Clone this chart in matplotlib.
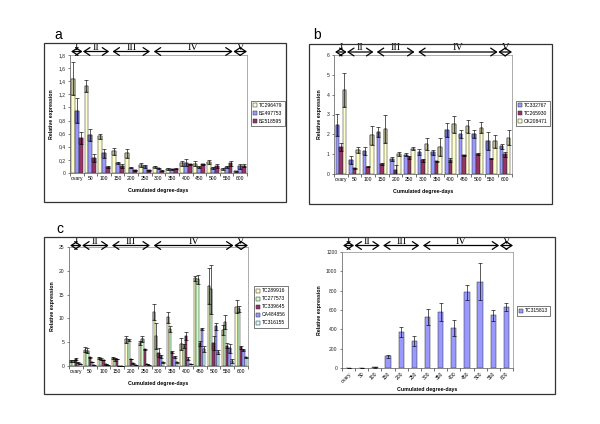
import numpy as np
import matplotlib
matplotlib.use("Agg")
import matplotlib.pyplot as plt
from matplotlib.patches import Rectangle
from matplotlib.transforms import blended_transform_factory

plt.rcParams['font.family'] = ['Liberation Sans', 'DejaVu Sans']

categories = ["ovary", "50", "100", "150", "200", "250", "300", "350",
              "400", "450", "500", "550", "600"]

# ---- panel a ----
a_names = ["TC296479", "BE497753", "BE518595"]
a_TC296479 = [1.44, 1.33, 0.56, 0.33, 0.30, 0.12, 0.09, 0.065, 0.15, 0.14, 0.17, 0.065, 0.025]
a_TC296479_err = [0.25, 0.09, 0.04, 0.05, 0.07, 0.03, 0.02, 0.015, 0.04, 0.04, 0.03, 0.015, 0.01]
a_BE497753 = [0.95, 0.58, 0.30, 0.15, 0.08, 0.10, 0.07, 0.055, 0.16, 0.085, 0.075, 0.09, 0.10]
a_BE497753_err = [0.19, 0.09, 0.07, 0.02, 0.01, 0.02, 0.01, 0.01, 0.06, 0.015, 0.01, 0.01, 0.04]
a_BE518595 = [0.53, 0.23, 0.09, 0.10, 0.04, 0.04, 0.035, 0.065, 0.13, 0.13, 0.11, 0.15, 0.11]
a_BE518595_err = [0.09, 0.06, 0.01, 0.03, 0.005, 0.005, 0.005, 0.005, 0.01, 0.005, 0.03, 0.04, 0.02]
a_yticks = [0, 0.2, 0.4, 0.6, 0.8, 1.0, 1.2, 1.4, 1.6, 1.8]
a_yticklabels = ["0", "0,2", "0,4", "0,6", "0,8", "1", "1,2", "1,4", "1,6", "1,8"]

# ---- panel b ----
b_names = ["TC332767", "TC265930", "CK208471"]
b_TC332767 = [2.49, 0.69, 1.14, 2.12, 0.74, 0.97, 1.10, 1.09, 2.22, 2.02, 2.01, 1.66, 1.40]
b_TC332767_err = [0.55, 0.21, 0.20, 0.25, 0.10, 0.07, 0.15, 0.13, 0.34, 0.19, 0.20, 0.46, 0.12]
b_TC265930 = [1.37, 0.28, 0.37, 0.50, 0.20, 0.84, 0.69, 0.64, 0.70, 0.94, 1.00, 0.77, 1.00]
b_TC265930_err = [0.20, 0.03, 0.03, 0.04, 0.25, 0.06, 0.08, 0.03, 0.09, 0.03, 0.04, 0.03, 0.12]
b_CK208471 = [4.25, 1.20, 1.96, 2.27, 1.00, 1.27, 1.51, 1.37, 2.51, 2.41, 2.34, 1.64, 1.84]
b_CK208471_err = [0.85, 0.14, 0.48, 0.69, 0.09, 0.08, 0.28, 0.47, 0.43, 0.33, 0.27, 0.32, 0.37]
b_yticks = [0, 1, 2, 3, 4, 5, 6]

# ---- panel c (left) ----
c_names = ["TC289916", "TC277573", "TC339645", "CA484856", "TC316155"]
c_TC289916 = [1.1, 3.4, 1.6, 1.7, 5.6, 4.8, 11.4, 10.2, 4.6, 18.4, 16.8, 7.6, 12.5]
c_TC289916_err = [0.2, 0.5, 0.2, 0.2, 0.8, 0.4, 1.7, 1.2, 1.3, 0.5, 3.8, 1.0, 1.4]
c_TC277573 = [1.05, 3.2, 1.5, 1.4, 5.4, 5.7, 6.3, 7.7, 4.2, 18.2, 16.1, 9.2, 12.0]
c_TC277573_err = [0.15, 0.5, 0.2, 0.3, 0.2, 0.7, 2.7, 0.6, 0.5, 0.9, 5.1, 1.5, 0.7]
c_TC339645 = [1.47, 1.82, 1.26, 1.47, 1.47, 3.5, 2.8, 2.9, 6.3, 4.8, 4.8, 4.3, 3.9]
c_TC339645_err = [0.2, 0.1, 0.1, 0.1, 0.1, 0.1, 0.9, 0.2, 0.9, 0.5, 1.4, 0.6, 0.4]
c_CA484856 = [0.70, 0.84, 0.35, 0.05, 0.56, 0.42, 2.0, 1.8, 1.5, 7.7, 8.3, 3.7, 3.4]
c_CA484856_err = [0.05, 0.1, 0.05, 0.02, 0.05, 0.05, 0.3, 0.2, 0.3, 0.2, 0.7, 0.9, 0.2]
c_TC316155 = [0.35, 0.28, 0.14, 0.05, 0.21, 0.21, 0.8, 0.8, 0.45, 3.6, 3.0, 1.1, 1.8]
c_TC316155_err = [0.03, 0.03, 0.02, 0.01, 0.02, 0.02, 0.1, 0.1, 0.05, 0.6, 0.4, 0.4, 0.15]
c_yticks = [0, 5, 10, 15, 20, 25]

# ---- panel c (right) ----
d_names = ["TC315813"]
d_TC315813 = [1, 2, 7, 121, 372, 279, 531, 579, 414, 783, 893, 545, 634]
d_TC315813_err = [1, 1, 3, 17, 48, 55, 83, 93, 86, 76, 193, 55, 42]
d_yticks = [0, 200, 400, 600, 800, 1000, 1200]

# developmental stages (span in category units) and labels
stage_names = ["I", "II", "III", "IV", "V"]
stage_spans = [(-0.42, 0.42), (0.45, 2.38), (2.62, 5.38), (5.65, 11.45), (11.5, 12.5)]

# colours: light fill, darker band
YEL = ("#FFFFCC", "#BEBE98")
BLU = ("#9999FF", "#6A6AC4")
MAR = ("#993366", "#7A2450")
GRN = ("#CCFFCC", "#9DB59D")
CYA = ("#CCFFFF", "#9DBDBD")
EDGE = "#2b2b2b"

W, H = 600, 424
fig = plt.figure(figsize=(6.0, 4.24), dpi=100)
fig.patch.set_facecolor("white")


def px_rect(x0, y0, x1, y1):
    return [x0 / W, 1 - y1 / H, (x1 - x0) / W, (y1 - y0) / H]


def frame(x0, y0, x1, y1):
    r = Rectangle((x0 / W, 1 - y1 / H), (x1 - x0) / W, (y1 - y0) / H,
                  transform=fig.transFigure, fill=False, lw=0.9, ec="#333333")
    fig.add_artist(r)


def grouped(ax, series, errs, names, colors, width, band=True):
    n = len(series)
    x = np.arange(len(categories))
    for k, (vals, err, name, col) in enumerate(zip(series, errs, names, colors)):
        off = (k - (n - 1) / 2) * width
        vals = np.array(vals, float)
        err = np.array(err, float)
        ax.bar(x + off, vals, width, color=col[0], edgecolor=EDGE, lw=0.35,
               label=name, zorder=2)
        if band:
            lo = np.clip(vals - err, 0, None)
            ax.bar(x + off, vals - lo, width, bottom=lo, color=col[1],
                   edgecolor=EDGE, lw=0.35, zorder=2.2)
        ax.errorbar(x + off, vals, yerr=err, fmt="none", ecolor="black",
                    elinewidth=0.45, capsize=1.3, capthick=0.45, zorder=3)


def style(ax, yticks, ylabels, ymax, rot=False):
    ax.set_xlim(-0.5, len(categories) - 0.5)
    ax.set_ylim(0, ymax)
    ax.set_yticks(yticks)
    ax.set_yticklabels(ylabels, fontsize=3.6)
    ax.set_xticks(np.arange(len(categories)))
    if rot:
        ax.set_xticklabels(categories, fontsize=3.6, rotation=45, ha="right",
                           rotation_mode="anchor")
    else:
        ax.set_xticklabels(categories, fontsize=3.6)
    ax.tick_params(axis="x", length=0, pad=2.5)
    ax.tick_params(axis="y", length=1.8, width=0.4, pad=1.5, colors="#222222")
    ax.set_xticks(np.arange(len(categories) + 1) - 0.5, minor=True)
    ax.tick_params(axis="x", which="minor", length=1.8, width=0.4)
    for s in ax.spines.values():
        s.set_color("#8c8c8c")
        s.set_linewidth(0.5)
    ax.spines["left"].set_color("#555555")
    ax.spines["bottom"].set_color("#555555")
    ax.set_ylabel("Relative expression", fontsize=3.8, fontweight="bold", labelpad=3)
    ax.set_xlabel("Cumulated degree-days", fontsize=3.8, fontweight="bold",
                  labelpad=4.5 if not rot else 2)


def stages(ax, ypx):
    tr = blended_transform_factory(ax.transData, fig.transFigure)
    y = 1 - ypx / H
    for (x0, x1), lab in zip(stage_spans, stage_names):
        ax.annotate("", xy=(x1, y), xytext=(x0, y), xycoords=tr, textcoords=tr,
                    arrowprops=dict(arrowstyle="<->,head_length=0.42,head_width=0.28",
                                    lw=0.9, color="black", shrinkA=0, shrinkB=0),
                    annotation_clip=False)
        ax.text((x0 + x1) / 2, y - 0.001, lab, transform=tr, ha="center", va="bottom",
                fontsize=7.5, family="Liberation Serif", clip_on=False)


def legend(ax, cx0, cy):
    ax.legend(loc="center left", bbox_to_anchor=(cx0 / W, 1 - cy / H),
              bbox_transform=fig.transFigure, fontsize=3.6, frameon=True,
              fancybox=False, edgecolor="#444444", framealpha=1,
              handlelength=0.8, handleheight=0.8, handletextpad=0.35,
              borderpad=0.45, labelspacing=0.6, borderaxespad=0)
    ax.get_legend().get_frame().set_linewidth(0.5)


# frames
frame(44, 43, 286, 202)
frame(309, 44, 552, 204)
frame(44, 237, 555, 394)

# panel a
ax_a = fig.add_axes(px_rect(70, 55, 247, 173))
grouped(ax_a, [a_TC296479, a_BE497753, a_BE518595],
        [a_TC296479_err, a_BE497753_err, a_BE518595_err], a_names,
        [YEL, BLU, MAR], 0.29)
style(ax_a, a_yticks, a_yticklabels, 1.8)
stages(ax_a, 51.5)
legend(ax_a, 251, 113.5)

# panel b
ax_b = fig.add_axes(px_rect(334, 55, 512, 174))
grouped(ax_b, [b_TC332767, b_TC265930, b_CK208471],
        [b_TC332767_err, b_TC265930_err, b_CK208471_err], b_names,
        [BLU, MAR, YEL], 0.26)
style(ax_b, b_yticks, [str(v) for v in b_yticks], 6)
stages(ax_b, 52)
legend(ax_b, 516, 113.5)

# panel c left
ax_c = fig.add_axes(px_rect(69, 247, 248, 366))
grouped(ax_c, [c_TC289916, c_TC277573, c_TC339645, c_CA484856, c_TC316155],
        [c_TC289916_err, c_TC277573_err, c_TC339645_err, c_CA484856_err, c_TC316155_err],
        c_names, [YEL, GRN, MAR, BLU, CYA], 0.165)
style(ax_c, c_yticks, [str(v) for v in c_yticks], 25)
stages(ax_c, 245.5)
legend(ax_c, 254, 307)

# panel c right
ax_d = fig.add_axes(px_rect(342, 252, 513, 368))
grouped(ax_d, [d_TC315813], [d_TC315813_err], d_names, [BLU], 0.4, band=False)
style(ax_d, d_yticks, [str(v) for v in d_yticks], 1200, rot=True)
stages(ax_d, 245.5)
legend(ax_d, 517, 311)

# panel letters
fig.text(58 / W, 1 - 35 / H, "a", fontsize=10, ha="center", va="center")
fig.text(317 / W, 1 - 35 / H, "b", fontsize=10, ha="center", va="center")
fig.text(60 / W, 1 - 229 / H, "c", fontsize=10, ha="center", va="center")

fig.savefig("out.png", dpi=100, facecolor="white")
